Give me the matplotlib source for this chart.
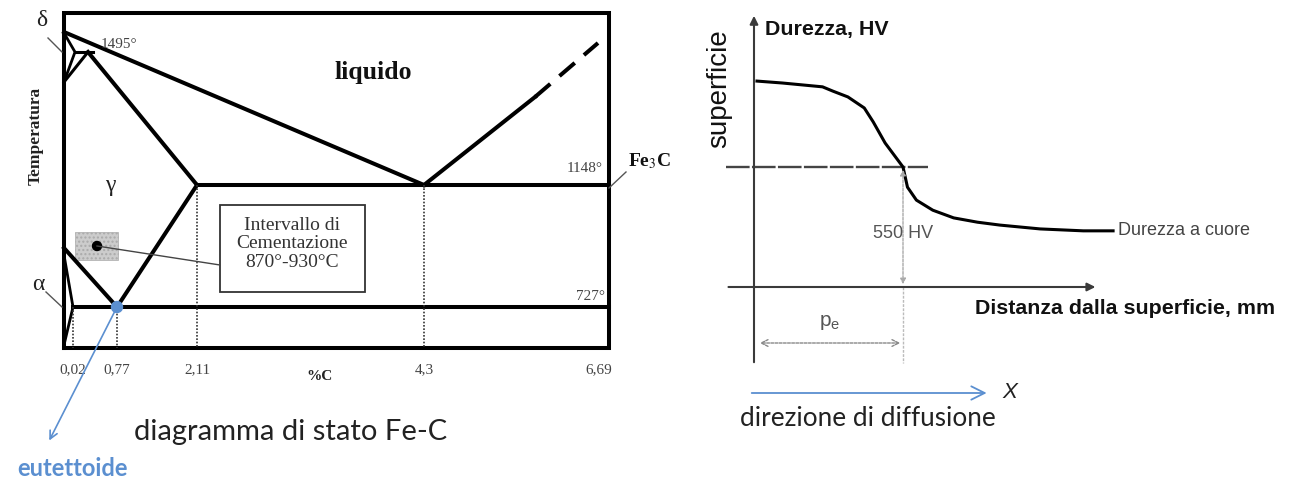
import numpy as np
import matplotlib
matplotlib.use('Agg')
from matplotlib import pyplot as plt
from matplotlib.patches import Rectangle, Circle

W, H = 1289, 483

# --- Fe-C diagram (schematic layout, canvas units) ---
carbon_labels = ['0,02', '0,77', '2,11', '4,3', '6,69']
carbon_x = [73, 117, 197, 424, 609]
temp_labels = ['727°', '1148°', '1495°']
temp_y = [307, 185, 52]
box_left, box_top, box_bottom = 64, 13, 348

# --- hardness profile (distance in mm, hardness in HV) ---
depth_mm = [0.02, 0.19, 0.46, 0.53, 0.63, 0.74, 0.80, 0.88, 0.94, 1.00,
            1.03, 1.09, 1.20, 1.34, 1.50, 1.65, 1.92, 2.21, 2.41]
hardness_hv = [729, 725, 717, 708, 696, 673, 644, 600, 575, 550,
               508, 481, 460, 444, 435, 429, 421, 417, 417]
limit_hv = 550
p_e = 1.00
base_hv = 300

blue = '#5b8fd0'
serif = 'Liberation Serif'
sans = 'Liberation Sans'

fig = plt.figure(figsize=(W / 100, H / 100), dpi=100)
ax = fig.add_axes([0, 0, 1, 1])
ax.set_xlim(0, W)
ax.set_ylim(H, 0)
ax.axis('off')

lw = 2.9
x002, x077, x211, x43, x669 = carbon_x
t727, t1148, t1495 = temp_y

# frame
ax.plot([box_left, box_left, x669, x669, box_left],
        [box_bottom, box_top, box_top, box_bottom, box_bottom],
        color='black', lw=lw, solid_joinstyle='miter')

# phase boundaries
peri = 88
ax.plot([box_left, x43], [32, t1148], color='black', lw=lw)              # liquidus (left)
ax.plot([peri, x211], [t1495, t1148], color='black', lw=lw)              # solidus
ax.plot([x211, x669], [t1148, t1148], color='black', lw=lw)              # eutectic
ax.plot([x002, x669], [t727, t727], color='black', lw=lw)                # eutectoid
ax.plot([x077, x211], [t727, t1148], color='black', lw=lw)               # Acm
ax.plot([box_left, x077], [248, t727], color='black', lw=lw)             # A3
ax.plot([x43, 535], [t1148, 97], color='black', lw=lw)                   # liquidus (right)
ax.plot([535, 598], [97, 43], color='black', lw=lw, dashes=(5, 3))
# delta corner
ax.plot([box_left, 75, box_left], [33, t1495, 82], color='black', lw=2)
ax.plot([75, 93], [t1495, t1495], color='black', lw=2.2)
ax.plot([peri, box_left], [t1495, 82], color='black', lw=2.2)
# alpha corner
ax.plot([box_left, x002, box_left], [255, t727, 345], color='black', lw=2)

# dotted composition verticals
for cx, cy in zip(carbon_x[:4], [t727, t727, t1148, t1148]):
    ax.plot([cx, cx], [cy, box_bottom], color='#333333', lw=1.2, ls=(0, (1, 1)))

# composition ticks
for lab, cx in zip(carbon_labels, carbon_x):
    ax.text(cx if lab != '6,69' else 599, 370, lab, ha='center', va='center',
            family=serif, size=11, color='#444444')
ax.text(320, 376, '%C', ha='center', va='center', family=serif, size=11,
        weight='bold', color='#222222')

# temperature labels
ax.text(603, 169, temp_labels[1], ha='right', va='center', family=serif, size=11, color='#444444')
ax.text(605, 296, temp_labels[0], ha='right', va='center', family=serif, size=11, color='#444444')
ax.text(101, 45, temp_labels[2], ha='left', va='center', family=serif, size=11, color='#444444')

ax.text(36, 136, 'Temperatura', rotation=90, ha='center', va='center',
        family=serif, size=12.5, weight='bold', color='#222222')
ax.text(373, 72, 'liquido', ha='center', va='center', family=serif, size=18.5,
        weight='bold', color='#111111')
ax.text(110, 186, 'γ', ha='center', va='center', family=serif, size=17, color='#222222')
ax.text(42, 20, 'δ', ha='center', va='center', family=serif, size=17, color='#222222')
ax.plot([48, 62], [38, 52], color='#555555', lw=1)
ax.text(38, 284, 'α', ha='center', va='center', family=serif, size=17, color='#222222')
ax.plot([46, 62], [292, 307], color='#555555', lw=1)
ax.text(628, 161, 'Fe$_3$C', ha='left', va='center', family=serif, size=14,
        weight='bold', color='#111111', math_fontfamily='stix')
ax.plot([609, 626], [188, 172], color='#555555', lw=1)

# carburising window
ax.add_patch(Rectangle((75, 232), 43, 28, facecolor='#cccccc', edgecolor='#aaaaaa',
                       hatch='....', lw=0.5))
ax.add_patch(Circle((97, 246), 4.5, color='black'))
ax.plot([97, 220], [246, 265], color='#444444', lw=1)
ax.add_patch(Rectangle((220, 205), 145, 87, facecolor='white', edgecolor='#333333', lw=1.3))
ax.text(292, 244, 'Intervallo di\nCementazione\n870°-930°C', ha='center', va='center',
        family=serif, size=14, color='#333333', linespacing=1.1)

# eutectoid point
ax.add_patch(Circle((x077, t727), 5.5, color=blue, zorder=5))
ax.annotate('', xy=(48, 443), xytext=(x077, t727),
            arrowprops=dict(arrowstyle='->', color=blue, lw=1.2, mutation_scale=14))
ax.text(72, 469, 'eutettoide', ha='center', va='center', family='Lato',
        size=17, weight='bold', color=blue)
ax.text(291, 432, 'diagramma di stato Fe-C', ha='center', va='center',
        family='Lato', size=21, color='#222222')

# --- hardness panel ---
k = 250 / 120
ax_r = fig.add_axes([700 / W, 0, (W - 700) / W, 1])
ax_r.set_xlim(-54 / 149, (W - 754) / 149)
ax_r.set_ylim(limit_hv - (H - 167) * k, limit_hv + 167 * k)
ax_r.axis('off')
ax_r.patch.set_alpha(0)

axis_col = '#3a3a3a'
ax_r.annotate('', xy=(0, limit_hv + 154 * k), xytext=(0, limit_hv - 198 * k),
              arrowprops=dict(arrowstyle='-|>', color=axis_col, lw=1.5, mutation_scale=12))
ax_r.annotate('', xy=(2.31, base_hv), xytext=(-0.19, base_hv),
              arrowprops=dict(arrowstyle='-|>', color=axis_col, lw=1.5, mutation_scale=12))
ax_r.plot([-0.19, 1.17], [limit_hv, limit_hv], color='#444444', lw=1.7, ls=(0, (10, 1)))
ax_r.plot([p_e, p_e], [base_hv, limit_hv - 196 * k], color='#bbbbbb', lw=1, ls=(0, (2, 1)))
ax_r.annotate('', xy=(p_e, limit_hv), xytext=(p_e, base_hv),
              arrowprops=dict(arrowstyle='<|-|>', color='#aaaaaa', lw=1, ls=(0, (2, 1)),
                              mutation_scale=8))
pe_y = limit_hv - 176 * k
ax_r.annotate('', xy=(0.02, pe_y), xytext=(p_e, pe_y),
              arrowprops=dict(arrowstyle='<->', color='#888888', lw=1, ls=(0, (2, 1)),
                              mutation_scale=12))
ax_r.text(0.51, limit_hv - 155 * k, '$\\mathregular{p_e}$', ha='center', va='center',
          family=sans, size=15, color='#555555')
ax_r.text(p_e, limit_hv - 66 * k, '550 HV', ha='center', va='center', family=sans,
          size=13, color='#555555')

ax_r.plot(depth_mm, hardness_hv, color='black', lw=2.2)
ax_r.text(2.44, hardness_hv[-1], 'Durezza a cuore', ha='left', va='center',
          family=sans, size=13, color='#444444')

ax_r.text(0.074, limit_hv + 137 * k, 'Durezza, HV', ha='left', va='center',
          family=sans, size=15.4, weight='bold', color='#111111')
ax_r.text(-0.235, limit_hv + 78 * k, 'superficie', rotation=90, ha='center', va='center',
          family=sans, size=20, color='#111111')
ax_r.text(2.49, limit_hv - 141 * k, 'Distanza dalla superficie, mm', ha='center',
          va='center', family=sans, size=15.4, weight='bold', color='#111111')

arr_y = limit_hv - 226 * k
ax_r.annotate('', xy=(1.58, arr_y), xytext=(-0.034, arr_y),
              arrowprops=dict(arrowstyle='->', color=blue, lw=1.3, mutation_scale=24))
ax_r.text(1.72, arr_y, 'X', ha='center', va='center', family=sans, size=16,
          style='italic', color='#222222')
ax_r.text(0.765, limit_hv - 251 * k, 'direzione di diffusione', ha='center',
          va='center', family='Lato', size=18.8, color='#222222')

fig.savefig('out.png', dpi=100)
